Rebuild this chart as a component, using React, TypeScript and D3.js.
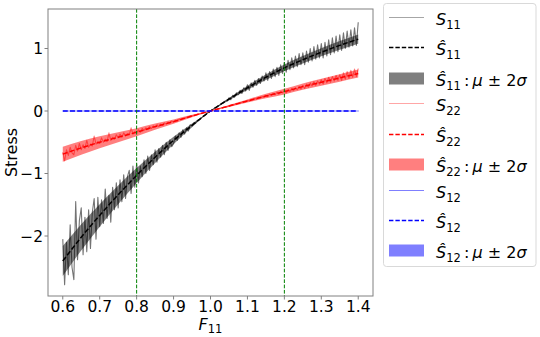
import React from 'react';
import * as d3 from 'd3';

// ---------- data ----------
const knotsF = [0.6, 0.65, 0.7, 0.75, 0.8, 0.85, 0.9, 0.95, 1.0, 1.05, 1.1, 1.15, 1.2, 1.25, 1.3, 1.35, 1.4];
const s11Mean = [-2.40, -2.02, -1.67, -1.34, -1.03, -0.74, -0.47, -0.23, 0, 0.19, 0.37, 0.54, 0.69, 0.82, 0.94, 1.05, 1.15];
const s11Band = [0.24, 0.21, 0.18, 0.15, 0.12, 0.09, 0.06, 0.03, 0.005, 0.02, 0.035, 0.045, 0.055, 0.06, 0.065, 0.07, 0.075];
const s22Mean = [-0.69, -0.59, -0.50, -0.42, -0.34, -0.25, -0.17, -0.08, 0, 0.08, 0.16, 0.24, 0.31, 0.39, 0.46, 0.53, 0.60];
const s22Band = [0.12, 0.11, 0.095, 0.08, 0.065, 0.05, 0.035, 0.02, 0.005, 0.015, 0.025, 0.035, 0.045, 0.05, 0.055, 0.06, 0.065];
const s12Mean = [0, 0, 0, 0, 0, 0, 0, 0, 0, 0, 0, 0, 0, 0, 0, 0, 0];
const s12Band = [0, 0, 0, 0, 0, 0, 0, 0, 0, 0, 0, 0, 0, 0, 0, 0, 0];

const obsStart = 0.6;
const obsStep = 0.005;
const s11Obs = [
  -2.05, -2.78, -2.10, -2.62, -1.82, -2.50, -2.70, -1.45, -2.38, -1.75,
  -1.55, -2.30, -1.70, -2.25, -1.58, -2.20, -1.62, -1.40, -2.05, -1.38,
  -1.85, -1.42, -1.80, -1.25, -1.72, -1.35, -1.78, -1.22, -1.58, -1.15,
  -1.55, -1.10, -1.45, -1.02, -1.40, -1.05, -0.95, -1.32, -0.88, -1.22,
  -0.84, -1.15, -0.88, -1.05, -0.78, -1.00, -0.72, -0.95, -0.70, -0.86,
  -0.62, -0.82, -0.60, -0.74, -0.55, -0.70, -0.50, -0.63, -0.46, -0.57,
  -0.52, -0.40, -0.47, -0.35, -0.42, -0.30, -0.37, -0.27, -0.32, -0.22,
  -0.24, -0.19, -0.19, -0.15, -0.14, -0.11, -0.09, -0.07, -0.04, -0.02,
  0.00, 0.02, 0.04, 0.05, 0.08, 0.09, 0.12, 0.13, 0.16, 0.16,
  0.21, 0.18, 0.25, 0.22, 0.29, 0.26, 0.33, 0.28, 0.37, 0.32,
  0.42, 0.33, 0.45, 0.38, 0.49, 0.41, 0.52, 0.44, 0.56, 0.48,
  0.61, 0.49, 0.63, 0.52, 0.67, 0.55, 0.70, 0.57, 0.74, 0.60,
  0.78, 0.62, 0.81, 0.66, 0.85, 0.69, 0.88, 0.71, 0.92, 0.74,
  0.93, 0.74, 0.96, 0.78, 1.00, 0.80, 1.03, 0.83, 1.06, 0.85,
  1.08, 0.85, 1.10, 0.88, 1.14, 0.90, 1.17, 0.93, 1.20, 0.95,
  1.22, 0.97, 1.25, 1.00, 1.28, 1.02, 1.30, 1.04, 1.33, 1.05, 1.42,
];
const s22Obs = [
  -0.66, -0.80, -0.62, -0.71, -0.58, -0.67, -0.70, -0.55, -0.64, -0.52,
  -0.62, -0.54, -0.60, -0.47, -0.58, -0.53, -0.56, -0.40, -0.53, -0.49,
  -0.52, -0.43, -0.50, -0.45, -0.49, -0.35, -0.47, -0.42, -0.45, -0.38,
  -0.43, -0.37, -0.42, -0.35, -0.40, -0.36, -0.38, -0.27, -0.37, -0.33,
  -0.35, -0.30, -0.34, -0.28, -0.31, -0.27, -0.29, -0.25, -0.28, -0.24,
  -0.26, -0.22, -0.25, -0.21, -0.23, -0.19, -0.21, -0.18, -0.19, -0.16,
  -0.18, -0.15, -0.16, -0.13, -0.14, -0.12, -0.12, -0.10, -0.10, -0.08,
  -0.08, -0.07, -0.07, -0.05, -0.05, -0.04, -0.03, -0.02, -0.02, -0.01,
  0.00, 0.01, 0.02, 0.02, 0.03, 0.04, 0.05, 0.06, 0.06, 0.07,
  0.08, 0.09, 0.10, 0.10, 0.12, 0.12, 0.13, 0.14, 0.15, 0.15,
  0.17, 0.16, 0.18, 0.18, 0.20, 0.19, 0.21, 0.21, 0.23, 0.22,
  0.25, 0.23, 0.27, 0.25, 0.28, 0.26, 0.30, 0.27, 0.31, 0.29,
  0.33, 0.29, 0.34, 0.31, 0.36, 0.33, 0.37, 0.34, 0.39, 0.35,
  0.41, 0.36, 0.43, 0.38, 0.45, 0.40, 0.47, 0.41, 0.48, 0.43,
  0.50, 0.43, 0.52, 0.45, 0.54, 0.46, 0.55, 0.48, 0.57, 0.49,
  0.58, 0.49, 0.61, 0.51, 0.63, 0.52, 0.65, 0.54, 0.67, 0.55, 0.68,
];
const s12Obs = [0, 0, 0, 0, 0, 0, 0, 0, 0, 0, 0, 0, 0, 0, 0, 0, 0];

const xTicks = [0.6, 0.7, 0.8, 0.9, 1.0, 1.1, 1.2, 1.3, 1.4];
const yTicks = [-2, -1, 0, 1];
const refLines = [0.8, 1.2];
const seriesColors = ['black', 'red', 'blue'];
const seriesSubs = ['11', '22', '12'];

// ---------- layout ----------
const W = 540, H = 337;
const left = 48, right = 373, top = 9, bottom = 296;
const FONT = 'DejaVu Sans, sans-serif';

const x = d3.scaleLinear().domain([0.56, 1.44]).range([left, right]);
const y = d3.scaleLinear().domain([-2.96, 1.632]).range([bottom, top]);

type Pt = [number, number];

export default function App() {
  const series = [
    { obs: s11Obs, obsF: s11Obs.map((_, i) => obsStart + i * obsStep), mean: s11Mean, band: s11Band, obsOpacity: 0.55, legOpacity: 0.35 },
    { obs: s22Obs, obsF: s22Obs.map((_, i) => obsStart + i * obsStep), mean: s22Mean, band: s22Band, obsOpacity: 0.5, legOpacity: 0.35 },
    { obs: s12Obs, obsF: knotsF, mean: s12Mean, band: s12Band, obsOpacity: 0.5, legOpacity: 0.5 },
  ];

  const lineGen = d3.line<Pt>().x(d => x(d[0])).y(d => y(d[1]));
  const smoothGen = d3.line<Pt>().x(d => x(d[0])).y(d => y(d[1])).curve(d3.curveMonotoneX);
  const areaGen = d3
    .area<[number, number, number]>()
    .x(d => x(d[0]))
    .y0(d => y(d[1] - d[2]))
    .y1(d => y(d[1] + d[2]))
    .curve(d3.curveMonotoneX);

  const legendX0 = 389, legendX1 = 424, legendTextX = 436;
  const rowY = (k: number) => {
    const g = Math.floor(k / 3);
    const r = k % 3;
    return Math.round(17 + g * 86.3 + r * 30.4) + 0.5;
  };

  const subSize = 11.5;
  const subDy = 4;

  const label = (kind: number, sub: string) => {
    const hat = kind > 0;
    const parts = [
      <tspan key="s" fontStyle="italic">{hat ? '\u015C' : 'S'}</tspan>,
      <tspan key="sub" fontSize={subSize} dy={subDy}>{sub}</tspan>,
    ];
    if (kind === 2) {
      parts.push(
        <tspan key="rest" dy={-subDy}>{'\u2009:\u2009'}</tspan>,
        <tspan key="mu" fontStyle="italic">{'\u03BC'}</tspan>,
        <tspan key="pm">{' \u00B1 2'}</tspan>,
        <tspan key="sig" fontStyle="italic">{'\u03C3'}</tspan>
      );
    }
    return parts;
  };

  return (
    <svg width={W} height={H} style={{ position: 'absolute', left: 0, top: 0, background: 'white' }} fontFamily={FONT}>
      <defs>
        <clipPath id="plotclip">
          <rect x={left} y={top} width={right - left} height={bottom - top} />
        </clipPath>
      </defs>
      <rect x={0} y={0} width={W} height={H} fill="white" />

      <g clipPath="url(#plotclip)">
        {series.map((s, i) => {
          const obsPts: Pt[] = s.obs.map((v, j) => [s.obsF[j], v]);
          const meanPts: Pt[] = s.mean.map((v, j) => [knotsF[j], v]);
          const bandPts = s.mean.map((v, j) => [knotsF[j], v, s.band[j]] as [number, number, number]);
          const c = seriesColors[i];
          return (
            <g key={i}>
              <path d={lineGen(obsPts) || ''} fill="none" stroke={c} strokeOpacity={s.obsOpacity} strokeWidth={1.1} strokeLinejoin="round" />
              <path d={smoothGen(meanPts) || ''} fill="none" stroke={c} strokeWidth={1.5} strokeDasharray="5,2.2" />
              <path d={areaGen(bandPts) || ''} fill={c} fillOpacity={0.5} stroke="none" />
            </g>
          );
        })}
        {refLines.map(v => (
          <line key={v} x1={x(v)} x2={x(v)} y1={top} y2={bottom} stroke="green" strokeWidth={1} strokeDasharray="3.7,1.6" />
        ))}
      </g>

      {/* frame */}
      <rect x={left} y={top} width={right - left} height={bottom - top} fill="none" stroke="#808080" strokeWidth={1} />

      {/* x ticks */}
      {xTicks.map(t => (
        <g key={t}>
          <line x1={x(t)} x2={x(t)} y1={bottom} y2={bottom + 3.5} stroke="#808080" strokeWidth={1} />
          <text x={x(t)} y={312} textAnchor="middle" fontSize={15.5} fill="black">{t.toFixed(1)}</text>
        </g>
      ))}
      {/* y ticks */}
      {yTicks.map(t => (
        <g key={t}>
          <line x1={left - 3.5} x2={left} y1={y(t)} y2={y(t)} stroke="#808080" strokeWidth={1} />
          <text x={43} y={y(t) + 5.5} textAnchor="end" fontSize={15.5} fill="black">{t < 0 ? '\u2212' + Math.abs(t) : String(t)}</text>
        </g>
      ))}

      {/* axis labels */}
      <text transform={`translate(17,${(top + bottom) / 2}) rotate(-90)`} textAnchor="middle" fontSize={16} fill="black">Stress</text>
      <text x={(left + right) / 2} y={330} textAnchor="middle" fontSize={16} fill="black">
        <tspan fontStyle="italic">F</tspan>
        <tspan fontSize={11.5} dy={3}>11</tspan>
      </text>

      {/* legend */}
      <rect x={383.5} y={3.5} width={152.5} height={263} rx={3} fill="white" fillOpacity={0.8} stroke="#d9d9d9" strokeWidth={1} />
      {[0, 1, 2, 3, 4, 5, 6, 7, 8].map(k => {
        const si = Math.floor(k / 3);
        const kind = k % 3;
        const c = seriesColors[si];
        const yy = rowY(k);
        return (
          <g key={k}>
            {kind === 0 && (
              <line x1={legendX0} x2={legendX1} y1={yy} y2={yy} stroke={c} strokeOpacity={series[si].legOpacity} strokeWidth={1} />
            )}
            {kind === 1 && (
              <line x1={legendX0} x2={legendX1} y1={yy} y2={yy} stroke={c} strokeWidth={1.5} strokeDasharray="4.4,2" />
            )}
            {kind === 2 && (
              <rect x={legendX0} y={yy - 6} width={legendX1 - legendX0} height={12} fill={c} fillOpacity={0.5} />
            )}
            <text x={legendTextX} y={yy + 7} fontSize={16} fill="black">
              {label(kind, seriesSubs[si])}
            </text>
          </g>
        );
      })}
    </svg>
  );
}
